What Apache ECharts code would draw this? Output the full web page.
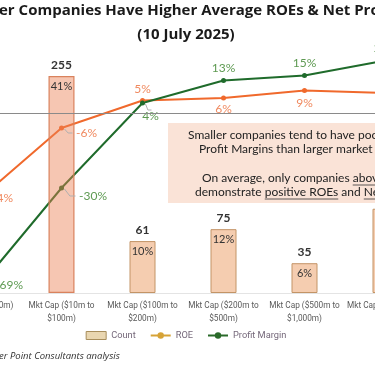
<!DOCTYPE html>
<html><head><meta charset="utf-8">
<script src="https://cdn.jsdelivr.net/npm/echarts@6/dist/echarts.min.js"></script>
<style>
html,body{margin:0;padding:0;width:375px;height:366px;overflow:hidden;background:#fff}
#c{position:absolute;left:-100px;top:0;width:572px;height:366px}
</style>
</head><body><div id="c"></div>
<script>
// ---- data ----
const categories = ['Mkt Cap (< $10m)', 'Mkt Cap ($10m to\n$100m)', 'Mkt Cap ($100m to\n$200m)', 'Mkt Cap ($200m to\n$500m)', 'Mkt Cap ($500m to\n$1,000m)', 'Mkt Cap (> $1,000m)'];
const counts = [97, 255, 61, 75, 35, 99];
const countShares = [16, 41, 10, 12, 6, 16];
const roe = [-34, -6, 5, 6, 9, 8];
const profitMargin = [-69, -30, 4, 13, 15, 21];
const titleText = 'Larger Companies Have Higher Average ROEs & Net Profit Margins';
const subtitleText = '(10 July 2025)';
const noteLines = [
  'Smaller companies tend to have poorer ROEs and Net',
  'Profit Margins than larger market cap companies.',
  'On average, only companies above $100m market cap',
  'demonstrate positive ROEs and Net Profit Margins.'
];
const noteUnderlines = [[], [], ['above $100m market cap'], ['positive ROEs', 'Net Profit Margins']];
const sourceText = 'er Point Consultants analysis';

// ---- layout helpers ----
const OFF = 100; // container is shifted left by this many px
const FONT = 'Lato';
const TFONT = 'Open Sans';
const SFONT = 'Roboto';
const cv = document.createElement('canvas').getContext('2d');
function tw(str, font) { cv.font = font; return cv.measureText(str).width; }
function fitSize(str, family, weight, target, lo, hi) {
  let best = lo;
  for (let s = lo; s <= hi; s += 0.25) {
    if (tw(str, weight + ' ' + s + 'px "' + family + '"') <= target) best = s;
  }
  return best;
}

const titleSize = fitSize('er Companies Have Higher Average ROEs & Net P', TFONT, 'bold', 370, 13, 19);
const titleFont = 'bold ' + titleSize + 'px "' + TFONT + '"';
const titleLeft = OFF - 1 - tw('Larg', titleFont);
const axisSize = fitSize('Mkt Cap ($10m to', SFONT, 'normal', 67, 8, 12);
const legendSize = fitSize('Profit Margin', SFONT, 'normal', 54, 8, 12);

const noteFont = '12px ' + FONT;
const noteStarts = [188, 199, 202, 195];
const noteYs = [135, 149, 178, 192];

const graphics = [
  { type: 'rect', silent: true, z: 0, shape: { x: OFF + 168, y: 123, width: 420, height: 80 }, style: { fill: '#fae3d7' } }
];
noteLines.forEach((line, i) => {
  graphics.push({ type: 'text', silent: true, z: 1, x: OFF + noteStarts[i], y: noteYs[i],
    style: { text: line, font: noteFont, fill: '#222', textAlign: 'left', textVerticalAlign: 'middle' } });
  noteUnderlines[i].forEach(seg => {
    const idx = line.indexOf(seg);
    const x0 = OFF + noteStarts[i] + tw(line.slice(0, idx), noteFont);
    const x1 = x0 + tw(seg, noteFont);
    graphics.push({ type: 'line', silent: true, z: 1, shape: { x1: x0, y1: noteYs[i] + 7, x2: x1, y2: noteYs[i] + 7 }, style: { stroke: '#333', lineWidth: 0.8 } });
  });
});
graphics.push({ type: 'text', silent: true, x: OFF - 1, y: 356,
  style: { text: sourceText, font: 'italic 9.5px "' + TFONT + '"', fill: '#333', textAlign: 'left', textVerticalAlign: 'middle' } });

// label placements (style only)
const roePlace = [
  { pos: 'right', dist: 2, off: [0, 3] },
  { pos: 'right', dist: 5, off: [0, 0], lead: [7, 5] },
  { pos: 'top', dist: 3, off: [9, 0] },
  { pos: 'bottom', dist: 3, off: [11, 0] },
  { pos: 'bottom', dist: 4, off: [10, 0] },
  { pos: 'bottom', dist: 4, off: [10, 0] }
];
const pmPlace = [
  { pos: 'right', dist: 12, off: [0, 4] },
  { pos: 'right', dist: 5, off: [0, 0], lead: [10, 8] },
  { pos: 'bottom', dist: 4, off: [0, 0], lead: [8, 1] },
  { pos: 'top', dist: 4, off: [9, 0] },
  { pos: 'top', dist: 4, off: [13, 0] },
  { pos: 'top', dist: 4, off: [10, 0] }
];
function lineData(vals, place) {
  return vals.map((v, i) => ({
    value: v,
    label: { position: place[i].pos, distance: place[i].dist, offset: place[i].off }
  }));
}
function layoutFn(place) {
  return function (p) { const pl = place[p.dataIndex]; return pl && pl.lead ? { dx: pl.lead[0], dy: pl.lead[1] } : {}; };
}

const barColor = '#f5cdb0', barBorder = '#c39466';
const chart = echarts.init(document.getElementById('c'), null, { renderer: 'canvas' });
chart.setOption({
  animation: false,
  backgroundColor: '#fff',
  title: [
    { text: titleText, left: titleLeft, top: 3, padding: 0, textStyle: { fontFamily: TFONT, fontSize: titleSize, fontWeight: 'bold', color: '#1a1a1a' } },
    { text: subtitleText, left: 'center', top: 27, padding: 0, textStyle: { fontFamily: TFONT, fontSize: titleSize, fontWeight: 'bold', color: '#1a1a1a' } }
  ],
  grid: { left: 40, right: 46, top: 50, bottom: 73 },
  legend: {
    left: 'center', top: 326, itemWidth: 20, itemHeight: 8, itemGap: 14,
    textStyle: { fontFamily: SFONT, fontSize: legendSize, color: '#75687a' },
    data: [
      { name: 'Count', icon: 'rect', itemStyle: { color: '#e9d6b0', borderColor: '#a88e5c', borderWidth: 1 } },
      { name: 'ROE', itemStyle: { color: '#d6a337' }, lineStyle: { color: '#d6a337', width: 2 } },
      { name: 'Profit Margin', itemStyle: { color: '#2a6a2a' }, lineStyle: { color: '#2a6a2a', width: 2 } }
    ]
  },
  xAxis: {
    type: 'category', data: categories,
    axisLine: { show: true, lineStyle: { color: '#e4e4e4' } },
    axisTick: { show: false },
    axisLabel: { interval: 0, margin: 6, fontFamily: SFONT, fontSize: axisSize, lineHeight: 13, color: '#5a5a5a' }
  },
  yAxis: [
    { type: 'value', min: 0, max: 285.5, show: false, splitLine: { show: false } },
    { type: 'value', min: -72, max: 25.2, show: false, splitLine: { show: false } }
  ],
  graphic: graphics,
  series: [
    {
      name: 'Count', type: 'bar', yAxisIndex: 0, barWidth: 26, z: 3,
      data: counts.map((v, i) => i === 1
        ? { value: v, itemStyle: { color: 'rgba(234,128,84,0.45)', borderColor: '#d9825d', borderWidth: 1.2 } }
        : { value: v }),
      itemStyle: { color: barColor, borderColor: barBorder, borderWidth: 1 },
      label: { show: true, position: 'insideTop', distance: 5, fontFamily: FONT, fontSize: 11, color: '#333',
        formatter: p => countShares[p.dataIndex] + '%' }
    },
    {
      name: 'CountTotal', type: 'bar', yAxisIndex: 0, barWidth: 26, barGap: '-100%', z: 4, silent: true,
      data: counts,
      itemStyle: { color: 'rgba(0,0,0,0)' },
      label: { show: true, position: 'top', distance: 5, fontFamily: FONT, fontSize: 12, fontWeight: 'bold', color: '#333' }
    },
    {
      name: 'ROE', type: 'line', yAxisIndex: 1, z: 2,
      data: lineData(roe, roePlace),
      symbol: 'circle', symbolSize: 5,
      itemStyle: { color: '#f0692c' }, lineStyle: { color: '#f0692c', width: 2 },
      label: { show: true, fontFamily: FONT, fontSize: 12, color: '#f08a60', formatter: '{c}%' },
      labelLayout: layoutFn(roePlace),
      markLine: { silent: true, symbol: ['none', 'none'], label: { show: false },
        lineStyle: { color: '#8a8a8a', type: 'solid', width: 1 }, data: [{ yAxis: 0 }] }
    },
    {
      name: 'Profit Margin', type: 'line', yAxisIndex: 1, z: 2,
      data: lineData(profitMargin, pmPlace),
      symbol: 'circle', symbolSize: 5,
      itemStyle: { color: '#1f6b2b' }, lineStyle: { color: '#1f6b2b', width: 2 },
      label: { show: true, fontFamily: FONT, fontSize: 12, color: '#5e9a52', formatter: '{c}%' },
      labelLayout: layoutFn(pmPlace)
    }
  ]
});

// short grey leader lines from points to displaced labels (positions from the library's scales)
[[2, roe, roePlace], [3, profitMargin, pmPlace]].forEach(([si, vals, place]) => {
  vals.forEach((v, i) => {
    const pl = place[i];
    if (!pl.lead) return;
    const pt = chart.convertToPixel({ seriesIndex: si }, [i, v]);
    const ex = pl.pos === 'bottom' ? [pl.lead[0] + 1, 6 + pl.lead[1]] : [pl.lead[0] + 4, pl.lead[1]];
    graphics.push({ type: 'polyline', silent: true, z: 5,
      shape: { points: [[pt[0] + 3, pt[1] + 1], [pt[0] + ex[0] * 0.6, pt[1] + ex[1]], [pt[0] + ex[0], pt[1] + ex[1]]] },
      style: { stroke: '#b0b0b0', lineWidth: 1, fill: null } });
  });
});
chart.setOption({ graphic: graphics });
</script>
</body></html>
